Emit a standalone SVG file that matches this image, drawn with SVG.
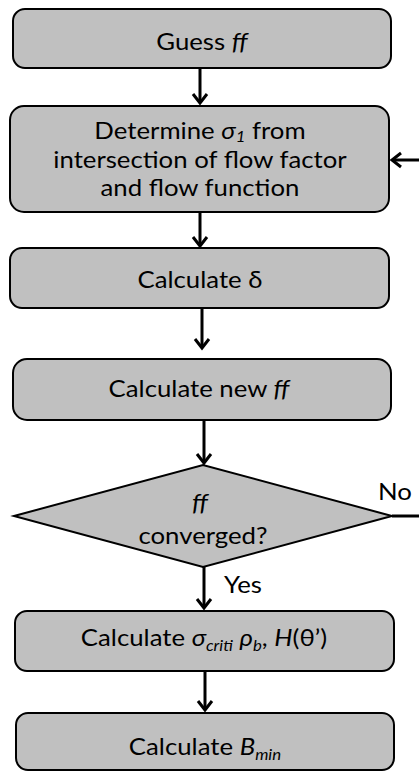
<svg xmlns="http://www.w3.org/2000/svg" width="419" height="771" viewBox="0 0 419 771">
<style>
.box{fill:#c0c0c0;stroke:#000;stroke-width:2}
.t{font-family:Lato,"Open Sans","Liberation Sans",sans-serif;font-size:23px;fill:#000;text-anchor:middle}
.c{fill:none;stroke:#000;stroke-width:3}
.i{font-style:italic}
.s{font-size:15px;font-style:italic}
</style>
<defs>
<marker id="ah" markerUnits="userSpaceOnUse" markerWidth="20" markerHeight="20" viewBox="-10 -10 20 20" refX="0" refY="0" orient="auto">
<path d="M-9,-7 L0,0 L-9,7" fill="none" stroke="#000" stroke-width="3"/>
</marker>
</defs>
<rect width="419" height="771" fill="#fff"/>
<g id="connectors">
<line class="c" x1="200" y1="68" x2="200" y2="103" marker-end="url(#ah)"/>
<line class="c" x1="200" y1="212" x2="200" y2="246" marker-end="url(#ah)"/>
<line class="c" x1="202" y1="308" x2="202" y2="348" marker-end="url(#ah)"/>
<line class="c" x1="204" y1="420" x2="204" y2="463" marker-end="url(#ah)"/>
<line class="c" x1="204" y1="567" x2="204" y2="608" marker-end="url(#ah)"/>
<line class="c" x1="205" y1="671" x2="205" y2="710" marker-end="url(#ah)"/>
<line class="c" x1="392" y1="516" x2="419" y2="516"/>
<line class="c" x1="419" y1="160" x2="392" y2="160" marker-end="url(#ah)"/>
<text class="t" x="395" y="500" transform="translate(395 0) scale(1.12 1) translate(-395 0)">No</text>
<text class="t" x="243" y="593" transform="translate(243 0) scale(1.12 1) translate(-243 0)">Yes</text>
</g>
<g id="n1">
<rect class="box" x="13" y="9" width="378" height="59" rx="12"/>
<text class="t" x="202" y="50" transform="translate(202 0) scale(1.12 1) translate(-202 0)">Guess <tspan class="i">ff</tspan></text>
</g>
<g id="n2">
<rect class="box" x="10" y="106" width="379" height="106" rx="14"/>
<text class="t" x="200" y="139" transform="translate(200 0) scale(1.12 1) translate(-200 0)">Determine <tspan class="i">σ</tspan><tspan class="s" dy="3">1</tspan><tspan dy="-3"> from</tspan></text>
<text class="t" x="200" y="168" transform="translate(200 0) scale(1.12 1) translate(-200 0)">intersection of flow factor</text>
<text class="t" x="200" y="196" transform="translate(200 0) scale(1.12 1) translate(-200 0)">and flow function</text>
</g>
<g id="n3">
<rect class="box" x="10" y="248" width="379" height="60" rx="12"/>
<text class="t" x="200" y="288" transform="translate(200 0) scale(1.12 1) translate(-200 0)">Calculate δ</text>
</g>
<g id="n4">
<rect class="box" x="13" y="359" width="378" height="61" rx="14"/>
<text class="t" x="199" y="397" transform="translate(199 0) scale(1.12 1) translate(-199 0)">Calculate new <tspan class="i">ff</tspan></text>
</g>
<g id="n5">
<polygon class="box" points="14,516 203,465 392,516 203,567"/>
<text class="t" x="200" y="511" transform="translate(200 0) scale(1.12 1) translate(-200 0)"><tspan class="i">ff</tspan></text>
<text class="t" x="203" y="544" transform="translate(203 0) scale(1.12 1) translate(-203 0)">converged?</text>
</g>
<g id="n6">
<rect class="box" x="15" y="611" width="379" height="60" rx="12"/>
<text class="t" x="204" y="646" transform="translate(204 0) scale(1.12 1) translate(-204 0)">Calculate <tspan class="i">σ</tspan><tspan class="s" dy="5">criti</tspan><tspan dy="-5"> </tspan><tspan class="i">ρ</tspan><tspan class="s" dy="5">b</tspan><tspan dy="-5">, </tspan><tspan class="i">H</tspan>(θ’)</text>
</g>
<g id="n7">
<rect class="box" x="16" y="713" width="378" height="57" rx="12"/>
<text class="t" x="205" y="755" transform="translate(205 0) scale(1.12 1) translate(-205 0)">Calculate <tspan class="i">B</tspan><tspan class="s" dy="5">min</tspan></text>
</g>
</svg>
